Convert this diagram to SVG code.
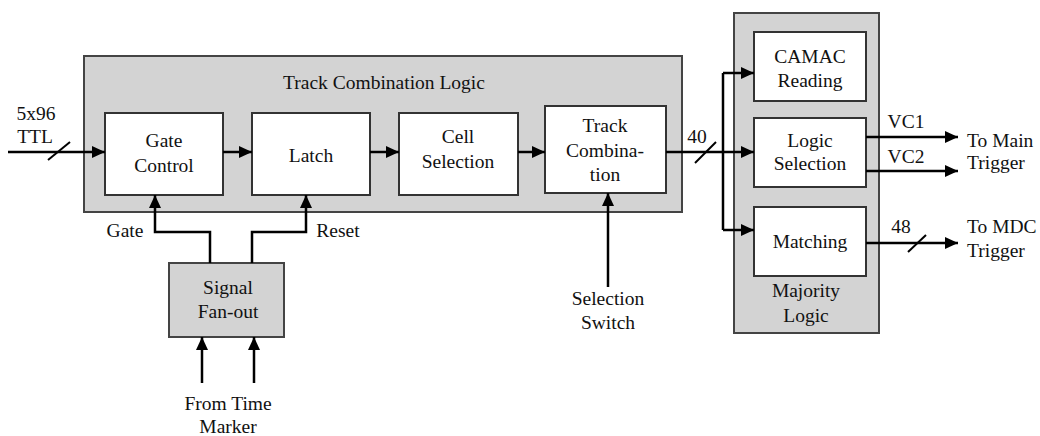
<svg xmlns="http://www.w3.org/2000/svg" width="1040" height="436" viewBox="0 0 1040 436">
<defs>
<marker id="ah" markerUnits="userSpaceOnUse" markerWidth="14" markerHeight="12" refX="13" refY="6" orient="auto">
<path d="M0,0 L13,6 L0,12 z" fill="#000"/>
</marker>
</defs>
<style>
text{font-family:"Liberation Serif","Times New Roman",serif;font-size:19.5px;fill:#111;text-anchor:middle}
.grp{fill:#d3d3d3;stroke:#444;stroke-width:2}
.box{fill:#fff;stroke:#333;stroke-width:2}
.ln{fill:none;stroke:#000;stroke-width:2.5}
.ar{fill:none;stroke:#000;stroke-width:2.5;marker-end:url(#ah)}
.sl{stroke:#000;stroke-width:2}
.l{text-anchor:start}
</style>
<rect width="1040" height="436" fill="#fff"/>
<g id="track-combination-logic">
<rect class="grp" x="84" y="56" width="598" height="156"/>
<text x="384" y="89">Track Combination Logic</text>
</g>
<g id="majority-logic">
<rect class="grp" x="734" y="13" width="145" height="320"/>
<text x="806" y="297">Majority</text>
<text x="806" y="322">Logic</text>
</g>
<g id="gate-control">
<rect class="box" x="105" y="113" width="118" height="82"/>
<text x="164" y="147">Gate</text>
<text x="164" y="172">Control</text>
</g>
<g id="latch">
<rect class="box" x="252" y="113" width="118" height="82"/>
<text x="311" y="162">Latch</text>
</g>
<g id="cell-selection">
<rect class="box" x="399" y="113" width="119" height="82"/>
<text x="458" y="143">Cell</text>
<text x="458" y="168">Selection</text>
</g>
<g id="track-combination">
<rect class="box" x="545" y="106" width="121" height="87"/>
<text x="605" y="132">Track</text>
<text x="605" y="157">Combina-</text>
<text x="605" y="181">tion</text>
</g>
<g id="camac-reading">
<rect class="box" x="754" y="32" width="112" height="69"/>
<text x="810" y="63">CAMAC</text>
<text x="810" y="87">Reading</text>
</g>
<g id="logic-selection">
<rect class="box" x="754" y="118" width="112" height="69"/>
<text x="810" y="147">Logic</text>
<text x="810" y="170">Selection</text>
</g>
<g id="matching">
<rect class="box" x="754" y="207" width="112" height="69"/>
<text x="810" y="248">Matching</text>
</g>
<g id="signal-fan-out">
<rect class="grp" x="169" y="263" width="115" height="74"/>
<text x="228" y="294">Signal</text>
<text x="228" y="318">Fan-out</text>
</g>
<g id="connectors">
<path class="ar" d="M8,152 H105"/>
<line class="sl" x1="48" y1="160" x2="70" y2="142"/>
<path class="ar" d="M223,152 H252"/>
<path class="ar" d="M370,152 H399"/>
<path class="ar" d="M518,152 H545"/>
<path class="ar" d="M666,152 H754"/>
<line class="sl" x1="695" y1="163" x2="716" y2="142"/>
<path class="ln" d="M723,73 V230"/>
<path class="ar" d="M723,73 H754"/>
<path class="ar" d="M723,230 H754"/>
<path class="ar" d="M866,137 H958"/>
<path class="ar" d="M866,171 H958"/>
<path class="ar" d="M866,243 H958"/>
<line class="sl" x1="908" y1="252" x2="926" y2="235"/>
<path class="ar" d="M210,263 V232 H155 V195"/>
<path class="ar" d="M252,263 V232 H306 V195"/>
<path class="ar" d="M202,383 V337"/>
<path class="ar" d="M254,383 V337"/>
<path class="ar" d="M608,287 V193"/>
</g>
<g id="labels">
<text x="36" y="120">5x96</text>
<text x="35" y="143">TTL</text>
<text x="697" y="143">40</text>
<text x="906" y="128">VC1</text>
<text x="906" y="163">VC2</text>
<text class="l" x="967" y="147">To Main</text>
<text class="l" x="967" y="169">Trigger</text>
<text x="901" y="233">48</text>
<text class="l" x="967" y="233">To MDC</text>
<text class="l" x="967" y="257">Trigger</text>
<text x="125" y="237">Gate</text>
<text x="338" y="237">Reset</text>
<text x="228" y="410">From Time</text>
<text x="228" y="433">Marker</text>
<text x="608" y="305">Selection</text>
<text x="608" y="329">Switch</text>
</g>
</svg>
